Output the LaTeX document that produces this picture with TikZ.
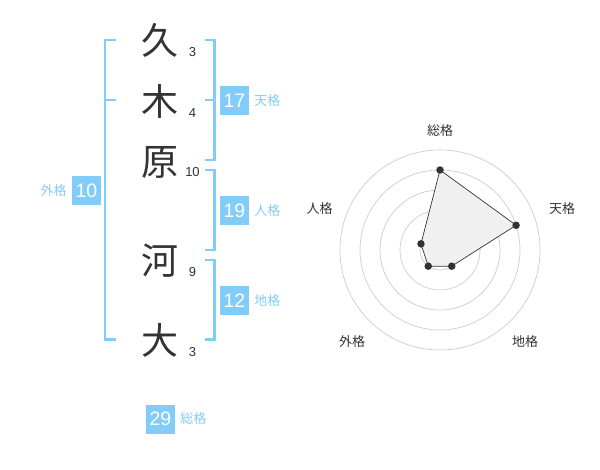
\documentclass[tikz,border=0pt]{standalone}
\usepackage{fontspec}
\setmainfont{Liberation Sans}
\newfontfamily\jp{Noto Sans CJK JP}
\usepackage{tikz}
\usetikzlibrary{calc,positioning}
\definecolor{kakublue}{RGB}{130,204,250}
\definecolor{inkgray}{RGB}{51,51,51}

\begin{document}
\begin{tikzpicture}[x=1pt,y=-1pt]
		\tikzstyle{kanji}=[text=inkgray,font=\jp\fontsize{37}{37}\selectfont,inner sep=0pt]
		\tikzstyle{stroke}=[text=inkgray,font=\fontsize{13}{13}\selectfont,inner sep=0pt]
		\tikzstyle{kakubox}=[fill=kakublue,text=white,minimum size=29pt,inner sep=0pt,font=\fontsize{19.5}{19.5}\selectfont]
		\tikzstyle{kakuname}=[text=kakublue,font=\jp\fontsize{13}{13}\selectfont,inner sep=0pt]
		\tikzstyle{bracket}=[draw=kakublue,line width=2.4pt]
		\tikzstyle{ring}=[draw=black!20,line width=0.7pt]
		\tikzstyle{axisname}=[text=inkgray,font=\jp\fontsize{13}{13}\selectfont,inner sep=0pt]
		\tikzstyle{dot}=[fill=inkgray,circle,minimum size=7.5pt,inner sep=0pt]

		\useasboundingbox (0,0) rectangle (600,470);

		% name
		\node[kanji](c1) at (160,40){久};
		\node[kanji](c2) at (160,101){木};
		\node[kanji](c3) at (160,162){原};
		\node[kanji](c4) at (160,261){河};
		\node[kanji](c5) at (160,340){大};

		\node[stroke](s1) at (192.5,52.5){3};
		\node[stroke](s2) at (192.5,113.5){4};
		\node[stroke](s3) at (192.5,172.5){10};
		\node[stroke](s4) at (192.5,272.5){9};
		\node[stroke](s5) at (192.5,352.5){3};

		% brackets
		\draw[bracket] (116,40) -- (105,40) -- (105,339.5) -- (116,339.5);
		\draw[bracket] (105,100) -- (116,100);
		\draw[bracket] (205,40) -- (214.5,40) -- (214.5,160) -- (205,160);
		\draw[bracket] (214.5,100) -- (205,100);
		\draw[bracket] (205,170) -- (214.5,170) -- (214.5,250) -- (205,250);
		\draw[bracket] (205,260) -- (214.5,260) -- (214.5,339.5) -- (205,339.5);

		% kaku values
		\node[kakubox](ten) at (234.5,100.5){17};
		\node[kakuname,right=5pt of ten]{天格};
		\node[kakubox](jin) at (234.5,211){19};
		\node[kakuname,right=5pt of jin]{人格};
		\node[kakubox](chi) at (234.5,300.5){12};
		\node[kakuname,right=5pt of chi]{地格};
		\node[kakubox](gai) at (86.5,190.5){10};
		\node[kakuname,left=5pt of gai]{外格};
		\node[kakubox](sou) at (160.5,419){29};
		\node[kakuname,right=5pt of sou]{総格};

		% radar chart
		\coordinate (o) at (440,250);
		\draw[ring] (o) circle (20);
		\draw[ring] (o) circle (40);
		\draw[ring] (o) circle (60);
		\draw[ring] (o) circle (80);
		\draw[ring] (o) circle (100);
		\node[fill=black!20,circle,minimum size=7pt,inner sep=0pt] at (o){};

		\coordinate (psou) at ($(o)+(90:-80)$);
		\coordinate (pten) at ($(o)+(-18:80)$);
		\coordinate (pchi) at ($(o)+(54:20)$);
		\coordinate (pgai) at ($(o)+(126:20)$);
		\coordinate (pjin) at ($(o)+(198:20)$);

		\draw[fill=black!6,draw=inkgray,line width=0.7pt] (psou) -- (pten) -- (pchi) -- (pgai) -- (pjin) -- cycle;
		\node[dot] at (psou){};
		\node[dot] at (pten){};
		\node[dot] at (pchi){};
		\node[dot] at (pgai){};
		\node[dot] at (pjin){};

		\node[axisname](asou) at (440,130.5){総格};
		\node[axisname](aten) at (562,209){天格};
		\node[axisname](achi) at (525,342){地格};
		\node[axisname](agai) at (352,342){外格};
		\node[axisname](ajin) at (319.5,209){人格};
	\end{tikzpicture}
\end{document}
